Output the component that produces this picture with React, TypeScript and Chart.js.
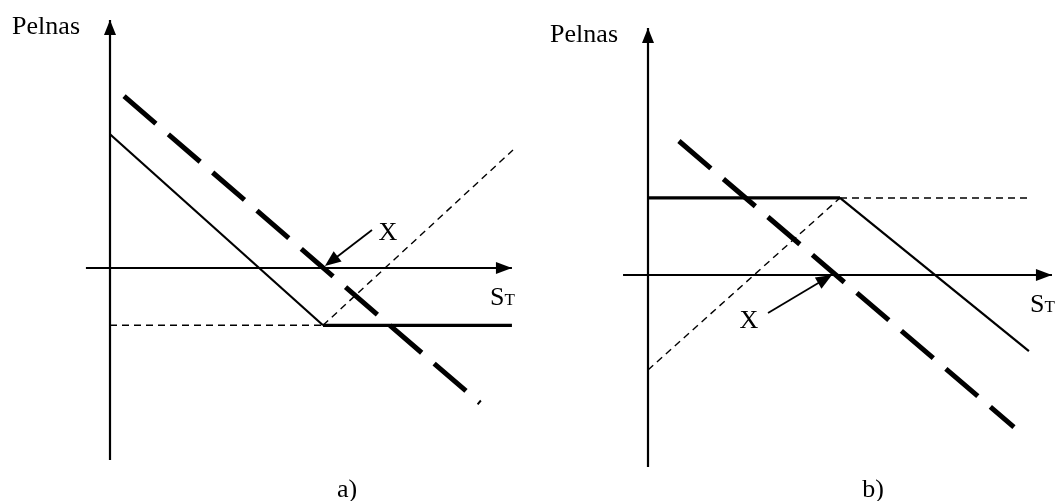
import React, { useEffect, useRef } from "react";
import { Chart, registerables } from "chart.js";

Chart.register(...registerables);

// ---------- Panel a) (units: S_T along x, profit along y) ----------
const aAxisS = [-1.13, 18.87];
const aAxisP = [-10.05, 12.98];
const aStrike = 10;
const aPutDiag = [
  { x: 0, y: 7 },
  { x: 10, y: -3 },
];
const aPutFlat = [
  { x: 10, y: -3 },
  { x: 18.87, y: -3 },
];
const aGuideFlat = [
  { x: 0, y: -3 },
  { x: 10, y: -3 },
];
const aGuideRise = [
  { x: 10, y: -3 },
  { x: 18.92, y: 6.18 },
];
const aForward = [
  { x: 0.66, y: 9.0 },
  { x: 17.37, y: -7.07 },
];
const aPointer = [
  { x: 12.3, y: 1.99 },
  { x: 10.09, y: 0.1 },
];
const aPointerLabel = { x: 13.05, y: 1.47, text: "X" };
const aCaption = { x: 11.13, y: -11.99, text: "a)" };

// ---------- Panel b) ----------
const bAxisS = [-1.3, 21.04];
const bAxisP = [-11.16, 14.36];
const bStrike = 10;
const bCallFlat = [
  { x: 0, y: 4.48 },
  { x: 10, y: 4.48 },
];
const bCallDiag = [
  { x: 10, y: 4.48 },
  { x: 19.84, y: -4.42 },
];
const bGuideFlat = [
  { x: 10, y: 4.48 },
  { x: 19.79, y: 4.48 },
];
const bGuideRise = [
  { x: 0, y: -5.52 },
  { x: 10, y: 4.48 },
];
const bForward = [
  { x: 1.61, y: 7.79 },
  { x: 19.06, y: -8.84 },
];
const bPointer = [
  { x: 6.25, y: -2.21 },
  { x: 9.58, y: 0.0 },
];
const bPointerLabel = { x: 5.26, y: -3.08, text: "X" };
const bCaption = { x: 11.72, y: -12.9, text: "b)" };

const yLabel = "Pelnas";
const xLabelMain = "S";
const xLabelSub = "T";

const FONT = '"Liberation Serif", "Times New Roman", serif';

function arrowHead(ctx: CanvasRenderingContext2D, fx: number, fy: number, tx: number, ty: number, len: number, wid: number) {
  const dx = tx - fx;
  const dy = ty - fy;
  const d = Math.hypot(dx, dy) || 1;
  const ux = dx / d;
  const uy = dy / d;
  const bx = tx - ux * len;
  const by = ty - uy * len;
  ctx.beginPath();
  ctx.moveTo(tx, ty);
  ctx.lineTo(bx - uy * wid / 2, by + ux * wid / 2);
  ctx.lineTo(bx + uy * wid / 2, by - ux * wid / 2);
  ctx.closePath();
  ctx.fill();
}

const decorPlugin = {
  id: "decor",
  afterDatasetsDraw(chart: any, _args: any, opts: any) {
    const { ctx } = chart;
    const xs = chart.scales.x;
    const ys = chart.scales.y;
    const px = (v: number) => xs.getPixelForValue(v);
    const py = (v: number) => ys.getPixelForValue(v);
    ctx.save();
    ctx.fillStyle = "#000";
    ctx.strokeStyle = "#000";

    // axis arrowheads
    const sEnd = opts.axisS[1];
    const pEnd = opts.axisP[1];
    arrowHead(ctx, px(0), py(0), px(sEnd), py(0), 16, 12);
    arrowHead(ctx, px(0), py(0), px(0), py(pEnd), 15, 12);

    // pointer arrow to strike
    const p = opts.pointer;
    const fx = px(p[0].x), fy = py(p[0].y), tx = px(p[1].x), ty = py(p[1].y);
    const d = Math.hypot(tx - fx, ty - fy);
    ctx.lineWidth = 1.8;
    ctx.beginPath();
    ctx.moveTo(fx, fy);
    ctx.lineTo(fx + (tx - fx) * (d - 8) / d, fy + (ty - fy) * (d - 8) / d);
    ctx.stroke();
    arrowHead(ctx, fx, fy, tx, ty, 16, 13);

    // texts
    ctx.font = `26px ${FONT}`;
    ctx.textBaseline = "alphabetic";
    ctx.textAlign = "center";
    ctx.fillText(opts.pointerLabel.text, px(opts.pointerLabel.x), py(opts.pointerLabel.y));
    ctx.fillText(opts.caption.text, px(opts.caption.x), py(opts.caption.y));

    ctx.textAlign = "right";
    ctx.fillText(yLabel, px(0) - 30, py(pEnd) + 14);

    ctx.font = `17px ${FONT}`;
    const subW = ctx.measureText(xLabelSub).width;
    const rx = px(sEnd) + 3;
    const by = py(0) + 37;
    ctx.fillText(xLabelSub, rx, by);
    ctx.font = `26px ${FONT}`;
    ctx.fillText(xLabelMain, rx - subW, by);

    ctx.restore();
  },
};

function line(data: any[], width: number, dash: number[] = []) {
  return {
    data,
    borderColor: "#000",
    borderWidth: width,
    borderDash: dash,
    borderCapStyle: "butt",
    pointRadius: 0,
    showLine: true,
    fill: false,
    tension: 0,
  };
}

function makeConfig(p: any) {
  return {
    type: "scatter",
    data: {
      datasets: [
        line([{ x: p.axisS[0], y: 0 }, { x: p.axisS[1], y: 0 }], 2.2),
        line([{ x: 0, y: p.axisP[0] }, { x: 0, y: p.axisP[1] }], 2.2),
        ...p.series,
      ],
    },
    options: {
      animation: false,
      responsive: false,
      devicePixelRatio: 1,
      layout: { padding: 0 },
      scales: {
        x: { type: "linear", min: p.xMin, max: p.xMax, display: false },
        y: { type: "linear", min: p.yMin, max: p.yMax, display: false },
      },
      plugins: {
        legend: { display: false },
        tooltip: { enabled: false },
        decor: {
          axisS: p.axisS,
          axisP: p.axisP,
          pointer: p.pointer,
          pointerLabel: p.pointerLabel,
          caption: p.caption,
        },
      },
    },
    plugins: [decorPlugin],
  };
}

const panelA = {
  axisS: aAxisS,
  axisP: aAxisP,
  strike: aStrike,
  xMin: -110 / 21.3,
  xMax: -110 / 21.3 + 527 / 21.3,
  yMin: 268 / 19.1 - 501 / 19.1,
  yMax: 268 / 19.1,
  series: [
    line(aGuideFlat, 1.4, [7, 5]),
    line(aGuideRise, 1.4, [7, 5]),
    line(aPutDiag, 2.2),
    line(aPutFlat, 3.2),
    line(aForward, 5, [42, 16.5]),
  ],
  pointer: aPointer,
  pointerLabel: aPointerLabel,
  caption: aCaption,
};

const panelB = {
  axisS: bAxisS,
  axisP: bAxisP,
  strike: bStrike,
  xMin: -121 / 19.2,
  xMax: -121 / 19.2 + 528 / 19.2,
  yMin: 275 / 17.2 - 501 / 17.2,
  yMax: 275 / 17.2,
  series: [
    line(bGuideFlat, 1.4, [7, 5]),
    line(bGuideRise, 1.4, [7, 5]),
    line(bCallFlat, 3.2),
    line(bCallDiag, 2.2),
    line(bForward, 5, [42, 16.5]),
  ],
  pointer: bPointer,
  pointerLabel: bPointerLabel,
  caption: bCaption,
};

function Panel({ cfg, left, width }: { cfg: any; left: number; width: number }) {
  const ref = useRef<HTMLCanvasElement | null>(null);
  useEffect(() => {
    if (!ref.current) return;
    const chart = new Chart(ref.current, makeConfig(cfg) as any);
    return () => chart.destroy();
  }, [cfg]);
  return (
    <canvas
      ref={ref}
      width={width}
      height={501}
      style={{ position: "absolute", left, top: 0, width, height: 501, display: "block" }}
    />
  );
}

export default function App() {
  return (
    <div style={{ position: "fixed", left: 0, top: 0, width: 1055, height: 501, background: "#fff" }}>
      <Panel cfg={panelA} left={0} width={527} />
      <Panel cfg={panelB} left={527} width={528} />
    </div>
  );
}
